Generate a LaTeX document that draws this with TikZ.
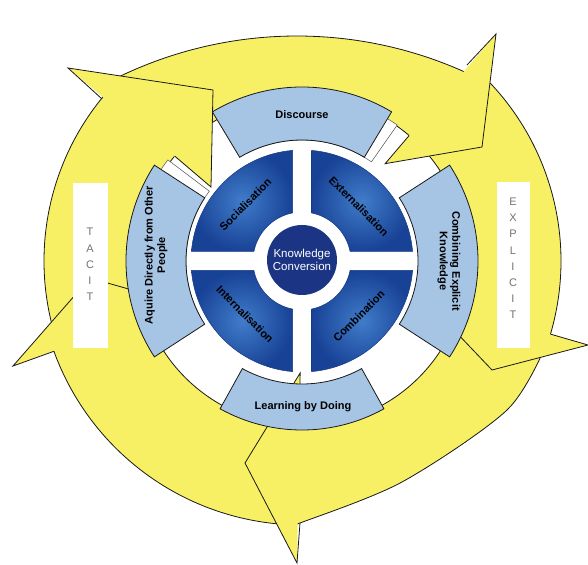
\documentclass[tikz,border=0pt]{standalone}
\usepackage{fontspec}
\setmainfont{Liberation Sans}
\usetikzlibrary{calc}
\definecolor{yel}{RGB}{248,240,100}
\definecolor{lblue}{RGB}{166,196,228}
\definecolor{qdark}{RGB}{24,66,150}
\definecolor{qlight}{RGB}{64,124,202}
\definecolor{kcol}{RGB}{28,52,132}
\definecolor{olc}{RGB}{25,25,25}
\definecolor{lettergray}{RGB}{115,115,115}
\newcommand{\annsec}[4]{(#1:#4) arc[start angle=#1,end angle=#2,radius=#4] -- (#2:#3) arc[start angle=#2,end angle=#1,radius=#3] -- cycle}
\newcommand{\qpath}[1]{({#1+4.91}:111pt) arc[start angle={#1+4.91},end angle={#1+85.09},radius=111pt] -- ({#1+78.82}:49pt) arc[start angle={#1+78.82},end angle={#1+11.18},radius=49pt] -- cycle}
\tikzset{
  band/.style={fill=yel, draw=olc, line width=0.8pt, line join=miter},
  headfill/.style={fill=yel},
  outl/.style={draw=olc, line width=0.8pt, line join=miter},
  shadowseg/.style={fill=white, draw=olc!75, line width=0.5pt},
  seg/.style={fill=lblue, draw=olc, line width=0.8pt},
  quadrant/.style={inner color=qlight, outer color=qdark, draw=qdark!85!black, line width=0.5pt},
  lab/.style={font=\fontsize{11}{12.5}\selectfont\bfseries, align=center, text=black, inner sep=0pt},
  qlab/.style={font=\fontsize{11}{12}\selectfont\bfseries, text=black, inner sep=0pt},
  sidebox/.style={fill=white, draw=none, inner sep=0pt},
  sidetext/.style={font=\fontsize{11}{16.2}\selectfont, text=lettergray, align=center, inner sep=0pt},
}
\begin{document}
\begin{tikzpicture}[x=1pt,y=1pt]
\fill[white] (-302,-303) rectangle (286,261);
\useasboundingbox (-302,-303) rectangle (286,261);

% yellow arrow bands
\path[band] (197:258pt) arc[start angle=197,end angle=139,radius=258pt] -- (139:165pt) arc[start angle=139,end angle=197,radius=165pt] -- cycle;
\path[band] ($(-5,-184)+(117:409pt)$) arc[start angle=117,end angle=64,radius=409pt] -- (47.5:165pt) arc[start angle=47.5,end angle=138,radius=165pt] -- cycle;
\path[band] (46.5:259pt) arc[start angle=46.5,end angle=-18,radius=259pt] -- (-18:165pt) arc[start angle=-18,end angle=46.5,radius=165pt] -- cycle;
\path[band] plot[smooth] coordinates {(244,-84) (205,-149) (100,-221) (-2,-262) (-12,-264)} -- (-93:165pt) arc[start angle=-93,end angle=-19,radius=165pt] -- cycle;
\path[band] (-94:264pt) arc[start angle=-94,end angle=-162,radius=264pt] -- (-162:165pt) arc[start angle=-162,end angle=-94,radius=165pt] -- cycle;

% arrow heads
\coordinate (n1) at (-200,162); \coordinate (b1) at (-234,193); \coordinate (t1) at (-89,171); \coordinate (i1) at (-91,74); \coordinate (m1) at (140.5:165pt);
\coordinate (n2) at (165,196); \coordinate (b2) at (194,227); \coordinate (t2) at (180,114); \coordinate (i2) at (49.5:128pt); \coordinate (m2) at (49.5:165pt);
\coordinate (n3) at (-16.4:259pt); \coordinate (b3) at (286,-84); \coordinate (t3) at (190,-109); \coordinate (i3) at (-16.4:125pt); \coordinate (m3) at (-16.4:165pt);
\coordinate (n4) at (-2,-262); \coordinate (b4) at (-5,-302); \coordinate (t4) at (-57,-202); \coordinate (i4) at (-90.95:112pt); \coordinate (m4) at (-90.95:165pt);
\coordinate (n5) at (200:264pt); \coordinate (b5) at (-289,-105); \coordinate (t5) at (-212,-17); \coordinate (i5) at (200:127pt); \coordinate (m5) at (200:165pt);
\foreach \k in {1,...,5}{
  \fill[headfill] (b\k) -- (t\k) -- (i\k) -- cycle;
  \draw[outl] (n\k) -- (b\k) -- (t\k) -- (i\k) -- (m\k);
}

% TACIT / EXPLICIT
\node[sidebox, minimum width=35pt, minimum height=165pt] (tacitbox) at (-211.5,-4.5) {};
\node[sidetext] (tacit) at (-212,-3.5) {T\\A\\C\\I\\T};
\node[sidebox, minimum width=33pt, minimum height=166pt] (explicitbox) at (211.5,-4) {};
\node[sidetext] (explicit) at (211,2.5) {E\\X\\P\\L\\I\\C\\I\\T};

% white shadows of the segments
\path[shadowseg] \annsec{55}{117}{121pt}{166pt};
\path[shadowseg] \annsec{143}{209}{116pt}{168pt};

% light blue segments
\path[seg] \annsec{59}{121}{121pt}{174pt};
\path[seg] \annsec{-33}{33}{116pt}{176pt};
\path[seg] \annsec{-119}{-61}{123pt}{169pt};
\path[seg] \annsec{147}{213}{116pt}{176pt};
\node[lab] (discourse) at (0,146) {Discourse};
\node[lab] (learning) at (1,-146) {Learning by Doing};
\node[lab, rotate=90] (aquire) at (-146,6) {Aquire Directly from Other\\People};
\node[lab, rotate=-90] (combining) at (147,0) {Combining Explicit\\Knowledge};

% quadrants
\shadedraw[quadrant] \qpath{0};
\shadedraw[quadrant] \qpath{90};
\shadedraw[quadrant] \qpath{180};
\shadedraw[quadrant] \qpath{270};
\node[qlab, rotate=45] (soc) at (135:80pt) {Socialisation};
\node[qlab, rotate=-45] (ext) at (44:79pt) {Externalisation};
\node[qlab, rotate=-45] (int) at (223:78pt) {Internalisation};
\node[qlab, rotate=45] (comb) at (316:79pt) {Combination};

% centre
\node[circle, fill=kcol, minimum size=70pt, inner sep=0pt, text=white, align=center, font=\fontsize{11.5}{12.5}\selectfont] (kc) at (0,1) {Knowledge\\Conversion};
\end{tikzpicture}
\end{document}
